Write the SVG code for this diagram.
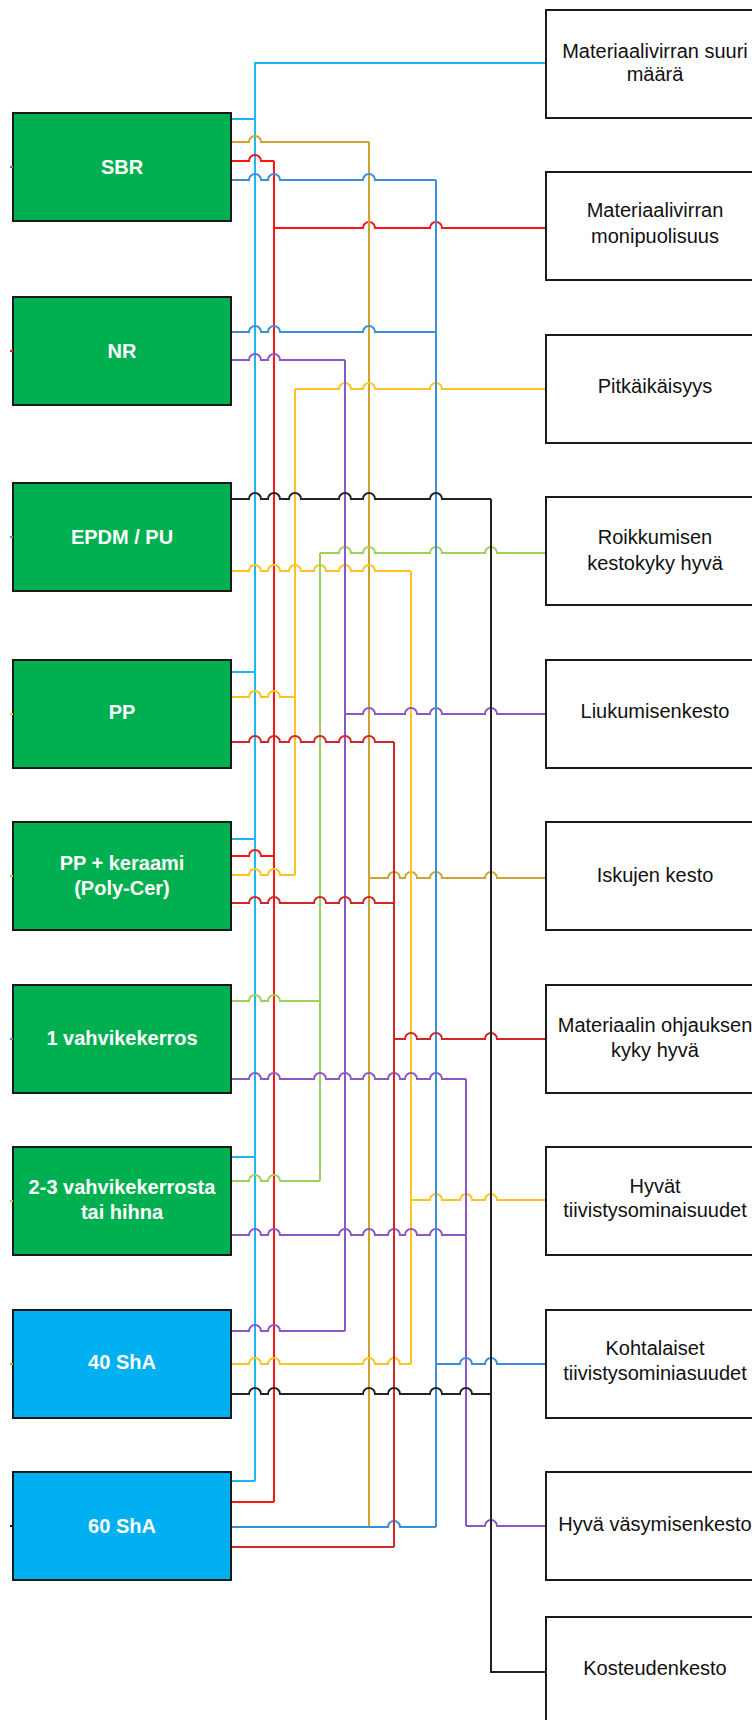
<svg xmlns="http://www.w3.org/2000/svg" width="752" height="1720" viewBox="0 0 752 1720">
  <style>
    .src-g { fill: #00B050; stroke: #1a1a1a; stroke-width: 2; }
    .src-b { fill: #00B0F0; stroke: #1a1a1a; stroke-width: 2; }
    .dst { fill: #ffffff; stroke: #1a1a1a; stroke-width: 2; }
    .lbl { font-family: "Liberation Sans", Arial, sans-serif; font-size: 20px; font-weight: bold; fill: #ffffff; text-anchor: middle; }
    .rlbl { font-family: "Liberation Sans", Arial, sans-serif; font-size: 20px; fill: #111111; text-anchor: middle; }
    .w { fill: none; stroke-width: 2; }
    .cyan { stroke: #1EB8F0; }
    .red { stroke: #FF1414; }
    .gold { stroke: #CDA434; }
    .yel { stroke: #FFC31F; }
    .grn { stroke: #9BD35A; }
    .pur { stroke: #8B57C4; }
    .blu { stroke: #3B8ED8; }
    .dred { stroke: #CF2626; }
    .blk { stroke: #222222; }
    .tick { stroke-width: 2; }
  </style>

  <rect width="752" height="1720" fill="#ffffff"/>

  <!-- connectors: horizontals hop over the vertical trunks they cross -->
  <g id="connectors">
    <!-- light blue: to "Materiaalivirran suuri määrä" -->
    <g class="w cyan">
      <path d="M231 119 H255"/>
      <path d="M231 672 H255"/>
      <path d="M231 839 H255"/>
      <path d="M231 1157 H255"/>
      <path d="M231 1481 H255"/>
      <path d="M255 1481 V63 H546"/>
    </g>

    <!-- red: to "Materiaalivirran monipuolisuus" -->
    <g class="w red">
      <path d="M231 161 H249 A6 6 0 0 1 261 161 H274"/>
      <path d="M231 856 H249 A6 6 0 0 1 261 856 H274"/>
      <path d="M231 1502 H274"/>
      <path d="M274 161 V1502"/>
      <path d="M274 228 H363 A6 6 0 0 1 375 228 H430 A6 6 0 0 1 442 228 H546"/>
    </g>

    <!-- dark gold: to "Iskujen kesto" -->
    <g class="w gold">
      <path d="M231 142 H249 A6 6 0 0 1 261 142 H369"/>
      <path d="M231 1527 H369"/>
      <path d="M369 142 V1527"/>
      <path d="M369 878 H388 A6 6 0 0 1 400 878 H405 A6 6 0 0 1 417 878 H430 A6 6 0 0 1 442 878 H485 A6 6 0 0 1 497 878 H546"/>
    </g>

    <!-- yellow: to "Pitkäikäisyys" and "Hyvät tiivistysominaisuudet" -->
    <g class="w yel">
      <path d="M295 389 V875"/>
      <path d="M295 389 H339 A6 6 0 0 1 351 389 H363 A6 6 0 0 1 375 389 H430 A6 6 0 0 1 442 389 H546"/>
      <path d="M231 697 H249 A6 6 0 0 1 261 697 H268 A6 6 0 0 1 280 697 H295"/>
      <path d="M231 875 H249 A6 6 0 0 1 261 875 H268 A6 6 0 0 1 280 875 H295"/>
      <path d="M231 571 H249 A6 6 0 0 1 261 571 H268 A6 6 0 0 1 280 571 H289 A6 6 0 0 1 301 571 H314 A6 6 0 0 1 326 571 H339 A6 6 0 0 1 351 571 H363 A6 6 0 0 1 375 571 H411"/>
      <path d="M411 571 V1364"/>
      <path d="M411 1200 H430 A6 6 0 0 1 442 1200 H460 A6 6 0 0 1 472 1200 H485 A6 6 0 0 1 497 1200 H546"/>
      <path d="M231 1364 H249 A6 6 0 0 1 261 1364 H268 A6 6 0 0 1 280 1364 H363 A6 6 0 0 1 375 1364 H388 A6 6 0 0 1 400 1364 H411"/>
    </g>

    <!-- green: to "Roikkumisen kestokyky hyvä" -->
    <g class="w grn">
      <path d="M320 553 V1181"/>
      <path d="M320 553 H339 A6 6 0 0 1 351 553 H363 A6 6 0 0 1 375 553 H430 A6 6 0 0 1 442 553 H485 A6 6 0 0 1 497 553 H546"/>
      <path d="M231 1001 H249 A6 6 0 0 1 261 1001 H268 A6 6 0 0 1 280 1001 H320"/>
      <path d="M231 1181 H249 A6 6 0 0 1 261 1181 H268 A6 6 0 0 1 280 1181 H320"/>
    </g>

    <!-- purple: to "Liukumisenkesto" and "Hyvä väsymisenkesto" -->
    <g class="w pur">
      <path d="M231 360 H249 A6 6 0 0 1 261 360 H268 A6 6 0 0 1 280 360 H345"/>
      <path d="M345 360 V1331"/>
      <path d="M345 714 H363 A6 6 0 0 1 375 714 H405 A6 6 0 0 1 417 714 H430 A6 6 0 0 1 442 714 H485 A6 6 0 0 1 497 714 H546"/>
      <path d="M231 1331 H249 A6 6 0 0 1 261 1331 H268 A6 6 0 0 1 280 1331 H345"/>
      <path d="M231 1079 H249 A6 6 0 0 1 261 1079 H268 A6 6 0 0 1 280 1079 H314 A6 6 0 0 1 326 1079 H339 A6 6 0 0 1 351 1079 H363 A6 6 0 0 1 375 1079 H388 A6 6 0 0 1 400 1079 H405 A6 6 0 0 1 417 1079 H430 A6 6 0 0 1 442 1079 H466"/>
      <path d="M231 1235 H249 A6 6 0 0 1 261 1235 H268 A6 6 0 0 1 280 1235 H339 A6 6 0 0 1 351 1235 H363 A6 6 0 0 1 375 1235 H388 A6 6 0 0 1 400 1235 H405 A6 6 0 0 1 417 1235 H430 A6 6 0 0 1 442 1235 H466"/>
      <path d="M466 1079 V1526"/>
      <path d="M466 1526 H485 A6 6 0 0 1 497 1526 H546"/>
    </g>

    <!-- blue: to "Kohtalaiset tiivistysominiasuudet" -->
    <g class="w blu">
      <path d="M231 180 H249 A6 6 0 0 1 261 180 H268 A6 6 0 0 1 280 180 H363 A6 6 0 0 1 375 180 H436"/>
      <path d="M231 332 H249 A6 6 0 0 1 261 332 H268 A6 6 0 0 1 280 332 H363 A6 6 0 0 1 375 332 H436"/>
      <path d="M436 180 V1527"/>
      <path d="M231 1527 H388 A6 6 0 0 1 400 1527 H436"/>
      <path d="M436 1364 H460 A6 6 0 0 1 472 1364 H485 A6 6 0 0 1 497 1364 H546"/>
    </g>

    <!-- dark red: to "Materiaalin ohjauksen kyky hyvä" -->
    <g class="w dred">
      <path d="M231 742 H249 A6 6 0 0 1 261 742 H268 A6 6 0 0 1 280 742 H289 A6 6 0 0 1 301 742 H314 A6 6 0 0 1 326 742 H339 A6 6 0 0 1 351 742 H363 A6 6 0 0 1 375 742 H394"/>
      <path d="M231 903 H249 A6 6 0 0 1 261 903 H268 A6 6 0 0 1 280 903 H314 A6 6 0 0 1 326 903 H339 A6 6 0 0 1 351 903 H363 A6 6 0 0 1 375 903 H394"/>
      <path d="M231 1547 H394"/>
      <path d="M394 742 V1547"/>
      <path d="M394 1039 H405 A6 6 0 0 1 417 1039 H430 A6 6 0 0 1 442 1039 H485 A6 6 0 0 1 497 1039 H546"/>
    </g>

    <!-- black: to "Kosteudenkesto" -->
    <g class="w blk">
      <path d="M231 499 H249 A6 6 0 0 1 261 499 H268 A6 6 0 0 1 280 499 H289 A6 6 0 0 1 301 499 H339 A6 6 0 0 1 351 499 H363 A6 6 0 0 1 375 499 H430 A6 6 0 0 1 442 499 H491"/>
      <path d="M231 1394 H249 A6 6 0 0 1 261 1394 H268 A6 6 0 0 1 280 1394 H363 A6 6 0 0 1 375 1394 H388 A6 6 0 0 1 400 1394 H430 A6 6 0 0 1 442 1394 H460 A6 6 0 0 1 472 1394 H491"/>
      <path d="M491 499 V1672 H546"/>
    </g>
  </g>

  <!-- material / property sources -->
  <g id="n-sbr">
    <rect class="src-g" x="13" y="113" width="218" height="108"/>
    <line class="tick pur" x1="10" y1="167" x2="13" y2="167"/>
    <text class="lbl" x="122" y="174">SBR</text>
  </g>
  <g id="n-nr">
    <rect class="src-g" x="13" y="297" width="218" height="108"/>
    <line class="tick red" x1="10" y1="351" x2="13" y2="351"/>
    <text class="lbl" x="122" y="358">NR</text>
  </g>
  <g id="n-epdm">
    <rect class="src-g" x="13" y="483" width="218" height="108"/>
    <line class="tick blu" x1="10" y1="537" x2="13" y2="537"/>
    <text class="lbl" x="122" y="544">EPDM / PU</text>
  </g>
  <g id="n-pp">
    <rect class="src-g" x="13" y="660" width="218" height="108"/>
    <line class="tick yel" x1="10" y1="714" x2="13" y2="714"/>
    <text class="lbl" x="122" y="719">PP</text>
  </g>
  <g id="n-ppk">
    <rect class="src-g" x="13" y="822" width="218" height="108"/>
    <line class="tick grn" x1="10" y1="876" x2="13" y2="876"/>
    <text class="lbl" x="122" y="870">PP + keraami</text>
    <text class="lbl" x="122" y="895">(Poly-Cer)</text>
  </g>
  <g id="n-v1">
    <rect class="src-g" x="13" y="985" width="218" height="108"/>
    <line class="tick blu" x1="10" y1="1039" x2="13" y2="1039"/>
    <text class="lbl" x="122" y="1045">1 vahvikekerros</text>
  </g>
  <g id="n-v23">
    <rect class="src-g" x="13" y="1147" width="218" height="108"/>
    <line class="tick grn" x1="10" y1="1201" x2="13" y2="1201"/>
    <text class="lbl" x="122" y="1194">2-3 vahvikekerrosta</text>
    <text class="lbl" x="122" y="1219">tai hihna</text>
  </g>
  <g id="n-sha40">
    <rect class="src-b" x="13" y="1310" width="218" height="108"/>
    <line class="tick gold" x1="10" y1="1364" x2="13" y2="1364"/>
    <text class="lbl" x="122" y="1369">40 ShA</text>
  </g>
  <g id="n-sha60">
    <rect class="src-b" x="13" y="1472" width="218" height="108"/>
    <line class="tick blk" x1="10" y1="1526" x2="13" y2="1526"/>
    <text class="lbl" x="122" y="1533">60 ShA</text>
  </g>

  <!-- required properties -->
  <g id="p-maara">
    <rect class="dst" x="546" y="10" width="218" height="108"/>
    <text class="rlbl" x="655" y="58">Materiaalivirran suuri</text>
    <text class="rlbl" x="655" y="81">määrä</text>
  </g>
  <g id="p-monipuolisuus">
    <rect class="dst" x="546" y="172" width="218" height="108"/>
    <text class="rlbl" x="655" y="217">Materiaalivirran</text>
    <text class="rlbl" x="655" y="243">monipuolisuus</text>
  </g>
  <g id="p-pitkaikaisyys">
    <rect class="dst" x="546" y="335" width="218" height="108"/>
    <text class="rlbl" x="655" y="393">Pitkäikäisyys</text>
  </g>
  <g id="p-roikkuminen">
    <rect class="dst" x="546" y="497" width="218" height="108"/>
    <text class="rlbl" x="655" y="544">Roikkumisen</text>
    <text class="rlbl" x="655" y="570">kestokyky hyvä</text>
  </g>
  <g id="p-liukuminen">
    <rect class="dst" x="546" y="660" width="218" height="108"/>
    <text class="rlbl" x="655" y="718">Liukumisenkesto</text>
  </g>
  <g id="p-iskut">
    <rect class="dst" x="546" y="822" width="218" height="108"/>
    <text class="rlbl" x="655" y="882">Iskujen kesto</text>
  </g>
  <g id="p-ohjaus">
    <rect class="dst" x="546" y="985" width="218" height="108"/>
    <text class="rlbl" x="655" y="1032">Materiaalin ohjauksen</text>
    <text class="rlbl" x="655" y="1057">kyky hyvä</text>
  </g>
  <g id="p-tiivistys-hyva">
    <rect class="dst" x="546" y="1147" width="218" height="108"/>
    <text class="rlbl" x="655" y="1193">Hyvät</text>
    <text class="rlbl" x="655" y="1217">tiivistysominaisuudet</text>
  </g>
  <g id="p-tiivistys-kohtalainen">
    <rect class="dst" x="546" y="1310" width="218" height="108"/>
    <text class="rlbl" x="655" y="1355">Kohtalaiset</text>
    <text class="rlbl" x="655" y="1380">tiivistysominiasuudet</text>
  </g>
  <g id="p-vasyminen">
    <rect class="dst" x="546" y="1472" width="218" height="108"/>
    <text class="rlbl" x="655" y="1531">Hyvä väsymisenkesto</text>
  </g>
  <g id="p-kosteus">
    <rect class="dst" x="546" y="1617" width="218" height="120"/>
    <text class="rlbl" x="655" y="1675">Kosteudenkesto</text>
  </g>
</svg>
